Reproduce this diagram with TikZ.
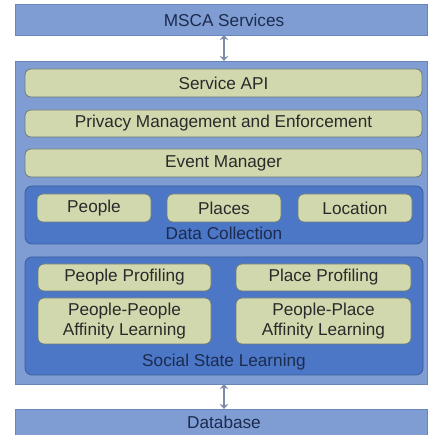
\documentclass[tikz,border=0pt]{standalone}
\usepackage{fontspec}
\setmainfont{Liberation Sans}
\usetikzlibrary{arrows.meta}
\definecolor{layerblue}{HTML}{7F9DD3}
\definecolor{layeredge}{HTML}{6A86B8}
\definecolor{groupblue}{HTML}{4B77C6}
\definecolor{groupedge}{HTML}{3D5F9E}
\definecolor{modfill}{HTML}{D2D8AE}
\definecolor{modedge}{HTML}{6C7C78}
\definecolor{navytext}{HTML}{1C2B4E}
\definecolor{modtext}{HTML}{2A2A2A}
\definecolor{linkgrey}{HTML}{7C8BA6}
\begin{document}
\begin{tikzpicture}[x=1pt,y=1pt,
  lbl/.style={inner sep=0pt, outer sep=0pt, font=\fontsize{17.2}{19.5}\selectfont, align=center},
  layer/.style={rectangle, fill=layerblue, draw=layeredge, line width=0.6pt},
  group/.style={rectangle, rounded corners=7pt, fill=groupblue, draw=groupedge, line width=0.8pt},
  module/.style={rectangle, rounded corners=6pt, fill=modfill, draw=modedge, line width=0.8pt},
  caption/.style={lbl, text=navytext},
  modlabel/.style={lbl, text=modtext},
  link/.style={draw=linkgrey, line width=2.8pt, {Stealth[length=5pt,width=8.5pt]}-{Stealth[length=5pt,width=8.5pt]}}
]
\useasboundingbox (0,0) rectangle (427,435);
\fill[white] (0,0) rectangle (427,435);

% outer layers
\path[layer] (15,400) rectangle (427,431);
\path[layer] (15,51) rectangle (427,374);
\path[layer] (15,0) rectangle (427,26);
\node[caption] (msca) at (224,415) {MSCA Services};
\node[caption] (db) at (224,12.5) {Database};

% stacked services
\path[module] (25,338) rectangle (422,366);
\path[module] (25,298) rectangle (422,325);
\path[module] (25,258) rectangle (422,286);
\node[modlabel] (api) at (223.5,352) {Service API};
\node[modlabel] (privacy) at (223.5,311.5) {Privacy Management and Enforcement};
\node[modlabel] (event) at (223.5,272) {Event Manager};

% data collection group
\path[group] (25,191) rectangle (423,249);
\path[module] (37,213) rectangle (151,241);
\path[module] (167,213) rectangle (281,241);
\path[module] (298,213) rectangle (412,241);
\node[modlabel] (people) at (94,227) {People};
\node[modlabel] (places) at (224,227) {Places};
\node[modlabel] (location) at (355,227) {Location};
\node[caption] (dclabel) at (224,201.5) {Data Collection};

% social state learning group
\path[group] (25,60) rectangle (423,178);
\path[module] (38,144) rectangle (211,171);
\path[module] (236,144) rectangle (411,171);
\path[module] (38,91) rectangle (211,137);
\path[module] (236,91) rectangle (411,137);
\node[modlabel] (pprof) at (124.5,157.5) {People Profiling};
\node[modlabel] (plprof) at (323.5,157.5) {Place Profiling};
\node[modlabel] (ppaff) at (124.5,114) {People-People\\Affinity Learning};
\node[modlabel] (plaff) at (323.5,114) {People-Place\\Affinity Learning};
\node[caption] (ssllabel) at (224,73) {Social State Learning};

% links between layers
\coordinate (top) at (224,400);
\coordinate (coretop) at (224,374);
\coordinate (corebot) at (224,51);
\coordinate (dbtop) at (224,26);
\draw[link] (top) -- (coretop);
\draw[link] (corebot) -- (dbtop);
\end{tikzpicture}
\end{document}
